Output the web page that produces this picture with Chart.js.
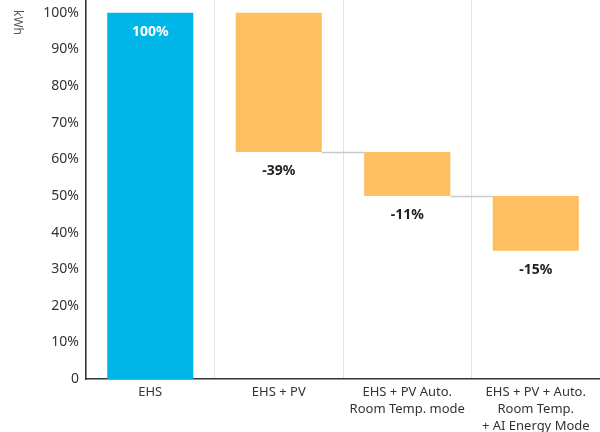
<!DOCTYPE html>
<html>
<head>
<meta charset="utf-8">
<script src="https://cdn.jsdelivr.net/npm/chart.js@4.4.1/dist/chart.umd.min.js"></script>
<style>
  html, body { margin: 0; padding: 0; background: #fff; }
  #wrap { width: 600px; height: 432px; position: relative; }
</style>
</head>
<body>
<div id="wrap"><canvas id="waterfallChart"></canvas></div>
<script>
// chart values
var categories = [
    ["EHS"],
    ["EHS + PV"],
    ["EHS + PV Auto.", "Room Temp. mode"],
    ["EHS + PV + Auto.", "Room Temp.", "+ AI Energy Mode"]
];
var barStart = [0, 62, 50, 35];
var barEnd = [100, 100, 62, 50];
var changeLabels = ["100%", "-39%", "-11%", "-15%"];
var barColors = ["#00b6e9", "#fdbf60", "#fdbf60", "#fdbf60"];
var yTickValues = [0, 10, 20, 30, 40, 50, 60, 70, 80, 90, 100];

var fontFamily = "'Noto Sans', sans-serif";

// grey connector lines between bars + value labels
var waterfallExtras = {
    id: "waterfallExtras",
    afterDatasetsDraw: function (chart) {
        var ctx = chart.ctx;
        var meta = chart.getDatasetMeta(0);
        var y = chart.scales.y;
        ctx.save();
        ctx.strokeStyle = "#c9c9c9";
        ctx.lineWidth = 1.5;
        for (var i = 1; i < meta.data.length - 1; i++) {
            var a = meta.data[i], b = meta.data[i + 1];
            var py = Math.round(y.getPixelForValue(barStart[i])) + 0.5;
            ctx.beginPath();
            ctx.moveTo(a.x + a.width / 2, py);
            ctx.lineTo(b.x - b.width / 2, py);
            ctx.stroke();
        }
        ctx.font = "bold 14px " + fontFamily;
        ctx.textAlign = "center";
        ctx.textBaseline = "middle";
        for (var j = 0; j < meta.data.length; j++) {
            var bar = meta.data[j];
            var ly;
            if (j === 0) {
                ctx.fillStyle = "#ffffff";
                ly = y.getPixelForValue(barEnd[j]) + 19;
            } else {
                ctx.fillStyle = "#222222";
                ly = y.getPixelForValue(barStart[j]) + 19;
            }
            ctx.fillText(changeLabels[j], bar.x, ly);
        }
        // unit label, rotated
        ctx.save();
        ctx.translate(17, 10);
        ctx.rotate(Math.PI / 2);
        ctx.font = "12px " + fontFamily;
        ctx.fillStyle = "#555555";
        ctx.textAlign = "left";
        ctx.textBaseline = "middle";
        ctx.fillText("kWh", 0, 0);
        ctx.restore();
        ctx.restore();
    }
};

document.addEventListener("DOMContentLoaded", function () {
    var ctx = document.getElementById("waterfallChart").getContext("2d");
    new Chart(ctx, {
        type: "bar",
        data: {
            labels: categories,
            datasets: [{
                data: barStart.map(function (s, i) { return [s, barEnd[i]]; }),
                backgroundColor: barColors,
                borderWidth: 0,
                borderSkipped: false,
                barPercentage: 0.67,
                categoryPercentage: 1
            }]
        },
        options: {
            responsive: true,
            maintainAspectRatio: false,
            animation: false,
            layout: { padding: { top: 0, right: 0, left: 0, bottom: 0 } },
            plugins: {
                legend: { display: false },
                tooltip: { enabled: false }
            },
            scales: {
                x: {
                    grid: {
                        display: true,
                        offset: true,
                        color: "#e2e2e2",
                        lineWidth: 1,
                        drawTicks: false
                    },
                    border: { display: true, color: "#333333", width: 1.5 },
                    ticks: {
                        color: "#333333",
                        font: { family: fontFamily, size: 13, lineHeight: 1.3 },
                        padding: 5,
                        maxRotation: 0,
                        autoSkip: false
                    },
                    afterFit: function (scale) {
                        scale.height = 53;
                        scale.paddingLeft = 0;
                        scale.paddingRight = 0;
                    }
                },
                y: {
                    min: 0,
                    max: 103.5,
                    grid: { display: false, drawTicks: false },
                    border: { display: true, color: "#333333", width: 1.5 },
                    ticks: {
                        color: "#333333",
                        font: { family: fontFamily, size: 14 },
                        padding: 7,
                        callback: function (v) { return v === 0 ? "0" : v + "%"; }
                    },
                    afterBuildTicks: function (scale) {
                        scale.ticks = yTickValues.map(function (v) { return { value: v }; });
                    },
                    afterFit: function (scale) {
                        scale.width = 86;
                        scale.paddingTop = 0;
                        scale.paddingBottom = 0;
                    }
                }
            }
        },
        plugins: [waterfallExtras]
    });
});
</script>
</body>
</html>
